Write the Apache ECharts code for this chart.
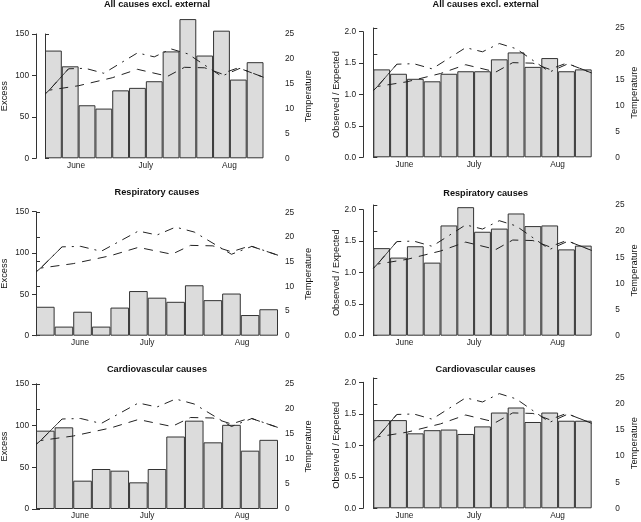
<!DOCTYPE html>
<html><head><meta charset="utf-8">
<script src="https://cdn.jsdelivr.net/npm/echarts@6/dist/echarts.min.js"></script>
<style>html,body{margin:0;padding:0;background:#fff}#c{width:641px;height:522px}</style>
</head><body><div id="c"></div>
<script>
// ---- data ----
const weeks = ['1','2','3','4','5','6','7','8','9','10','11','12','13'];
const panelTitles = ['All causes excl. external','All causes excl. external','Respiratory causes','Respiratory causes','Cardiovascular causes','Cardiovascular causes'];
const allExcess  = [130, 111, 64, 60, 82, 85, 93, 129, 168, 124, 154, 95, 116];
const respExcess = [35, 11, 29, 11, 34, 54, 46, 41, 61, 43, 51, 25, 32];
const cardExcess = [94, 98, 34, 48, 46, 32, 48, 87, 106, 80, 101, 70, 83];
const allRatio  = [1.40, 1.33, 1.25, 1.21, 1.33, 1.37, 1.37, 1.56, 1.67, 1.44, 1.58, 1.37, 1.40];
const respRatio = [1.39, 1.24, 1.42, 1.16, 1.75, 2.04, 1.65, 1.70, 1.94, 1.74, 1.75, 1.37, 1.43];
const cardRatio = [1.40, 1.40, 1.19, 1.24, 1.25, 1.18, 1.30, 1.52, 1.60, 1.37, 1.52, 1.39, 1.39];
const tempDashDotWeek = [0, 0.25, 1.4, 2.4, 3.5, 5.5, 6.5, 7.5, 8.5, 10.5, 11.6, 13];
const tempDashDot     = [12.9, 13.7, 18.0, 18.1, 17.1, 21.2, 20.4, 22.0, 21.0, 16.5, 18.1, 16.3];
const tempDashedWeek  = [0, 0.25, 2.0, 4.0, 5.5, 7.3, 8.3, 9.5, 10.5, 11.5, 13];
const tempDashed      = [12.9, 13.7, 14.6, 16.2, 17.9, 16.5, 18.3, 18.2, 17.0, 18.2, 16.3];
const monthTickWeekNarrow = [1.85, 6.0, 10.97];
const monthTickWeekWide   = [2.37, 5.97, 11.07];
const monthLabels = ['June', 'July', 'Aug'];
const excessTicks = [0, 50, 100, 150];
const ratioTicks = [0, 0.5, 1.0, 1.5, 2.0];
const tempTicks = [0, 5, 10, 15, 20, 25];

// ---- layout (pixels) ----
const FONT = '"Liberation Sans", Arial, Helvetica, sans-serif';
const colL = {barL:45, barR:263.5, axL:36, axR:278, months:monthTickWeekNarrow};
const colLwide = {barL:36, barR:278, axL:36, axR:278, months:monthTickWeekWide};
const colR = {barL:373.3, barR:591.7, axL:363, axR:608.3, months:monthTickWeekNarrow};
const panels = [
  {vals: allExcess,  kind:'ex', col: colL,     top:34,    lineTop:34,    bottom:158.3, titleY:4.5},
  {vals: allRatio,   kind:'ra', col: colR,     top:31.7,  lineTop:28,    bottom:157.3, titleY:4.5},
  {vals: respExcess, kind:'ex', col: colLwide, top:211.7, lineTop:212.3, bottom:335.7, titleY:192},
  {vals: respRatio,  kind:'ra', col: colR,     top:209.7, lineTop:205,   bottom:335.7, titleY:193},
  {vals: cardExcess, kind:'ex', col: colLwide, top:384,   lineTop:384,   bottom:509,   titleY:369},
  {vals: cardRatio,  kind:'ra', col: colR,     top:382.3, lineTop:378,   bottom:508.3, titleY:369.5}
];

const ink = '#222';
const option = {animation:false, grid:[], xAxis:[], yAxis:[], series:[], graphic:[]};
const pairs = (xs, ys) => xs.map((x, k) => [x, ys[k]]);

panels.forEach((p, i) => {
  const c = p.col, w = c.barR - c.barL;
  const months = c.months;
  option.grid.push({left:c.barL, top:p.top, width:w, height:p.bottom - p.top, outerBoundsMode:'none', containLabel:false});
  option.grid.push({left:c.barL, top:p.lineTop, width:w, height:p.bottom - p.lineTop, outerBoundsMode:'none', containLabel:false});
  const gb = 2*i, gl = 2*i + 1;
  option.xAxis.push({gridIndex:gb, type:'category', data:weeks, show:false, boundaryGap:true});
  option.xAxis.push({gridIndex:gl, type:'value', min:0, max:13,
    axisLine:{show:false}, axisTick:{show:false}, splitLine:{show:false},
    axisLabel:{customValues:months, margin:3, fontSize:8.3, fontFamily:FONT, color:ink,
      formatter:(v) => { let k = 0; months.forEach((m, j) => { if (Math.abs(m - v) < Math.abs(months[k] - v)) k = j; }); return monthLabels[k]; }}});
  const lt = p.kind === 'ex' ? excessTicks : ratioTicks;
  option.yAxis.push({gridIndex:gb, type:'value', position:'left', offset:c.barL - c.axL,
    min:lt[0], max:lt[lt.length-1], interval:lt[1]-lt[0],
    axisLine:{show:true, lineStyle:{color:'#333', width:1}},
    axisTick:{show:true, length:4, lineStyle:{color:'#333'}},
    splitLine:{show:false},
    axisLabel:{margin:7, fontSize:8.3, fontFamily:FONT, color:ink,
      formatter:(v) => p.kind === 'ex' ? String(v) : v.toFixed(1)}});
  option.yAxis.push({gridIndex:gl, type:'value', position:'right', offset:c.axR - c.barR,
    min:tempTicks[0], max:tempTicks[tempTicks.length-1], interval:tempTicks[1]-tempTicks[0],
    axisLine:{show:true, lineStyle:{color:'#333', width:1}},
    axisTick:{show:true, length:4, lineStyle:{color:'#333'}},
    splitLine:{show:false},
    axisLabel:{margin:7, fontSize:8.3, fontFamily:FONT, color:ink}});
  option.series.push({type:'bar', xAxisIndex:gb, yAxisIndex:gb, data:p.vals, barCategoryGap:'0%', clip:false,
    itemStyle:{color:'#dcdcdc', borderColor:'#333', borderWidth:1}});
  option.series.push({type:'line', xAxisIndex:gl, yAxisIndex:gl, data:pairs(tempDashedWeek, tempDashed), symbol:'none', clip:false,
    lineStyle:{color:ink, width:1, type:[9, 7]}});
  option.series.push({type:'line', xAxisIndex:gl, yAxisIndex:gl, data:pairs(tempDashDotWeek, tempDashDot), symbol:'none', clip:false,
    lineStyle:{color:ink, width:1, type:[2, 6, 9, 6]}});
  option.series.push({type:'line', xAxisIndex:gl, yAxisIndex:gl, data:pairs(tempDashDotWeek, tempDashDot).slice(1, 3), symbol:'none', clip:false,
    lineStyle:{color:ink, width:0.8, type:'solid'}});

  const cx = (c.axL + c.axR) / 2;
  option.graphic.push({type:'text', x:cx, y:p.titleY, style:{text:panelTitles[i], font:'bold 9.2px ' + FONT, fill:'#111',
    align:'center', verticalAlign:'middle', textAlign:'center', textVerticalAlign:'middle'}});
  const mid = (p.top + p.bottom) / 2, midR = (p.lineTop + p.bottom) / 2;
  const leftName = p.kind === 'ex' ? 'Excess' : 'Observed / Expected';
  const lx = p.kind === 'ex' ? 4 : 336;
  const rx = p.kind === 'ex' ? 308.3 : 634.5;
  option.graphic.push({type:'text', x:lx, y:mid, rotation:Math.PI/2, style:{text:leftName, font:'9.3px ' + FONT, fill:'#111',
    align:'center', verticalAlign:'middle', textAlign:'center', textVerticalAlign:'middle'}});
  option.graphic.push({type:'text', x:rx, y:midR, rotation:Math.PI/2, style:{text:'Temperature', font:'9.3px ' + FONT, fill:'#111',
    align:'center', verticalAlign:'middle', textAlign:'center', textVerticalAlign:'middle'}});
});

const chart = echarts.init(document.getElementById('c'), null, {renderer:'canvas'});
chart.setOption(option);
</script>
</body></html>
